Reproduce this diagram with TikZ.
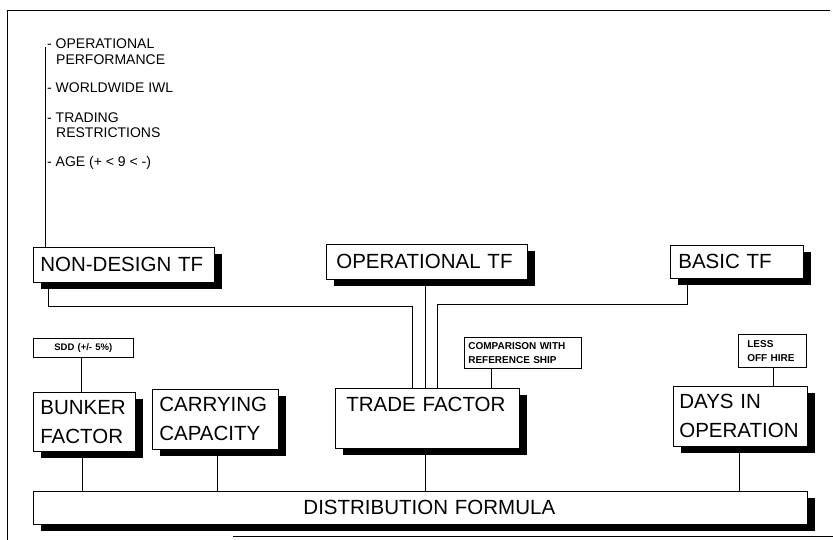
\documentclass[tikz,border=0pt]{standalone}
\usepackage{fontspec}
\setmainfont{Liberation Sans}
\usetikzlibrary{shadows}
\begin{document}
\begin{tikzpicture}[x=1pt,y=-1pt,
  bigbox/.style={draw, fill=white, line width=0.7pt, anchor=north west, inner xsep=7pt, inner ysep=0pt,
    align=left, font=\fontsize{20.5}{29}\selectfont,
    general shadow={fill=black, shadow xshift=8pt, shadow yshift=-7pt}},
  smallbox/.style={draw, fill=white, line width=0.6pt, anchor=north west, inner ysep=0pt,
    align=left, font=\bfseries\fontsize{10}{14}\selectfont},
  listtxt/.style={anchor=base west, inner sep=0pt, font=\fontsize{14}{16}\selectfont},
  conn/.style={line width=0.7pt},
  frame/.style={line width=0.9pt}
]
\useasboundingbox (0,0) rectangle (833,540);

% frame
\draw[frame] (830,10) -- (7,10) -- (7,540);
\draw[frame] (233,536) -- (833,536);

% list
\node[listtxt] (l1) at (47,49) {- OPERATIONAL};
\node[listtxt] (l1b) at (56,65) {PERFORMANCE};
\node[listtxt] (l2) at (47,93) {- WORLDWIDE IWL};
\node[listtxt] (l3) at (47,123) {- TRADING};
\node[listtxt] (l3b) at (56,138) {RESTRICTIONS};
\node[listtxt] (l4) at (47,167) {- AGE (+ < 9 < -)};

% top row boxes
\node[bigbox, text width=167pt, minimum height=35pt] (nondesign) at (33,247) {NON-DESIGN TF};
\node[bigbox, inner xsep=10pt, text width=181pt, minimum height=35pt] (operational) at (326,244) {OPERATIONAL TF};
\node[bigbox, inner xsep=8pt, text width=117pt, minimum height=33pt] (basic) at (670,245) {BASIC TF};

% small boxes
\node[smallbox, inner xsep=0pt, text width=100pt, align=center, minimum height=19pt, font=\bfseries\fontsize{9.5}{12}\selectfont] (sdd) at (33,338) {SDD (+/- 5\%)};
\node[smallbox, inner xsep=4pt, text width=109pt, minimum height=31pt] (comp) at (464,337) {COMPARISON WITH\\REFERENCE SHIP};
\node[smallbox, inner xsep=9pt, text width=50pt, minimum height=33pt] (less) at (738,334) {LESS\\OFF~HIRE};

% middle row boxes
\node[bigbox, text width=88pt, minimum height=59pt] (bunker) at (33,392) {BUNKER\\FACTOR};
\node[bigbox, text width=112pt, minimum height=60pt] (carrying) at (152,389) {CARRYING\\CAPACITY};
\node[bigbox, inner xsep=11pt, text width=162pt, minimum height=60pt] (trade) at (335,388) {TRADE FACTOR\\[-10pt]\strut};
\node[bigbox, inner xsep=6pt, text width=122pt, minimum height=60pt] (days) at (673,386) {DAYS IN\\OPERATION};

% bottom box
\node[bigbox, text width=760pt, align=center, minimum height=33pt] (dist) at (33,491) {\hspace*{18pt}DISTRIBUTION FORMULA};

% connector coordinates
\coordinate (ltop) at (45,47);
\coordinate (ja) at (48,306);
\coordinate (jb) at (412,306);
\coordinate (xo) at (425,0);
\coordinate (jc) at (687,304);
\coordinate (jd) at (437,304);
\coordinate (xcmp) at (491,0);
\coordinate (xless) at (773,0);
\coordinate (xsdd) at (81,0);
\coordinate (xbk) at (82,0);
\coordinate (xcc) at (217,0);
\coordinate (xtr) at (425,0);
\coordinate (xdy) at (739,0);

% connectors
\draw[conn] (ltop) -- (ltop |- nondesign.north);
\draw[conn] (nondesign.south -| ja) -- (ja) -- (jb) -- (trade.north -| jb);
\draw[conn] (operational.south -| xo) -- (trade.north -| xo);
\draw[conn] (basic.south -| jc) -- (jc) -- (jd) -- (trade.north -| jd);
\draw[conn] (comp.south -| xcmp) -- (trade.north -| xcmp);
\draw[conn] (less.south -| xless) -- (days.north -| xless);
\draw[conn] (sdd.south -| xsdd) -- (bunker.north -| xsdd);
\draw[conn] (bunker.south -| xbk) -- (dist.north -| xbk);
\draw[conn] (carrying.south -| xcc) -- (dist.north -| xcc);
\draw[conn] (trade.south -| xtr) -- (dist.north -| xtr);
\draw[conn] (days.south -| xdy) -- (dist.north -| xdy);
\end{tikzpicture}
\end{document}
